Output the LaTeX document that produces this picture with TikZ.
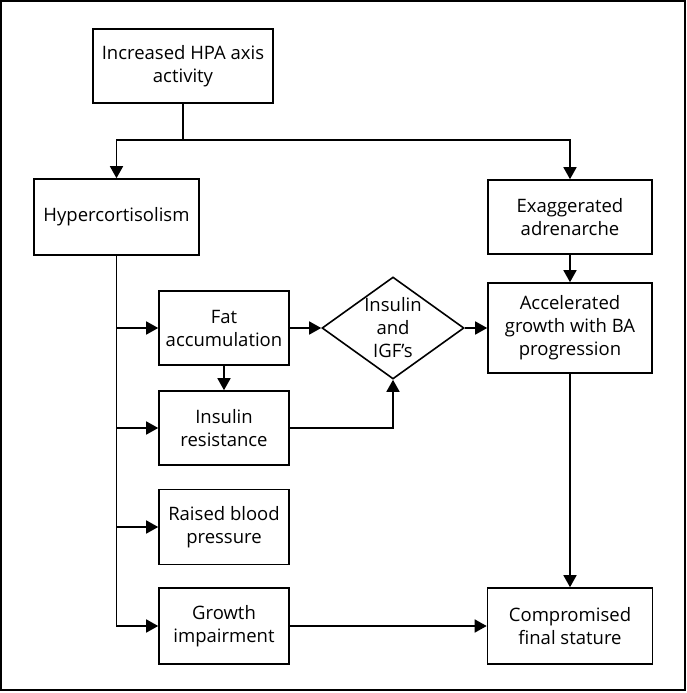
\documentclass[tikz,border=0pt]{standalone}
\usepackage{fontspec}
\setmainfont{Open Sans}
\usetikzlibrary{arrows.meta,shapes.geometric}

\begin{document}
\begin{tikzpicture}[x=1pt, y=-1pt,
  flowbox/.style={draw, line width=1.6pt, align=center, inner sep=0pt,
    font=\fontsize{18.5}{23}\selectfont},
  flowline/.style={line width=1.6pt},
  flowarrow/.style={line width=1.6pt, -{Triangle[length=12pt,width=13pt]}}]
  \useasboundingbox (0,0) rectangle (687,693);
  % Moldura
  \draw[line width=2.2pt] (1,1) rectangle (685,690);
  % Caixas
  \node[flowbox, minimum width=180pt, minimum height=74pt] (hpa) at (183,66) {Increased HPA axis\\activity};
  \node[flowbox, minimum width=165pt, minimum height=76pt] (hyper) at (116.5,217) {Hypercortisolism};
  \node[flowbox, minimum width=164pt, minimum height=74pt] (exag) at (570,217) {Exaggerated\\adrenarche};
  \node[flowbox, minimum width=164pt, minimum height=90pt] (accel) at (570,328) {Accelerated\\growth with BA\\progression};
  \node[flowbox, minimum width=130pt, minimum height=74pt] (fat) at (224,328) {Fat\\accumulation};
  \node[flowbox, minimum width=130pt, minimum height=74pt] (insres) at (224,428) {Insulin\\resistance};
  \node[flowbox, minimum width=130pt, minimum height=75pt] (bp) at (224,527) {Raised blood\\pressure};
  \node[flowbox, minimum width=130pt, minimum height=76pt] (growth) at (224,626) {Growth\\impairment};
  \node[flowbox, minimum width=165pt, minimum height=76pt] (comp) at (570,626) {Compromised\\final stature};
  % Losango
  \node[draw, diamond, line width=1.6pt, minimum width=142pt, minimum height=102pt, inner sep=0pt] (igf) at (393,328) {};
  \node[align=center, inner sep=0pt, font=\fontsize{18.5}{23}\selectfont] (igftext) at (igf) {Insulin\\and\\IGF’s};
  % Setas
  \coordinate (split) at (183,140);
  \draw[flowline] (hpa.south) -- (split);
  \draw[flowarrow] (split) -| (hyper.north);
  \draw[flowarrow] (split) -| (exag.north);
  \foreach \n in {fat,insres,bp,growth}
    \draw[flowarrow] (hyper.south) |- (\n.west);
  \draw[flowarrow] (fat) -- (insres);
  \draw[flowarrow] (fat) -- (igf);
  \draw[flowarrow] (insres.east) -| (igf.south);
  \draw[flowarrow] (igf) -- (accel);
  \draw[flowarrow] (exag) -- (accel);
  \draw[flowarrow] (accel) -- (comp);
  \draw[flowarrow] (growth) -- (comp);
\end{tikzpicture}
\end{document}
